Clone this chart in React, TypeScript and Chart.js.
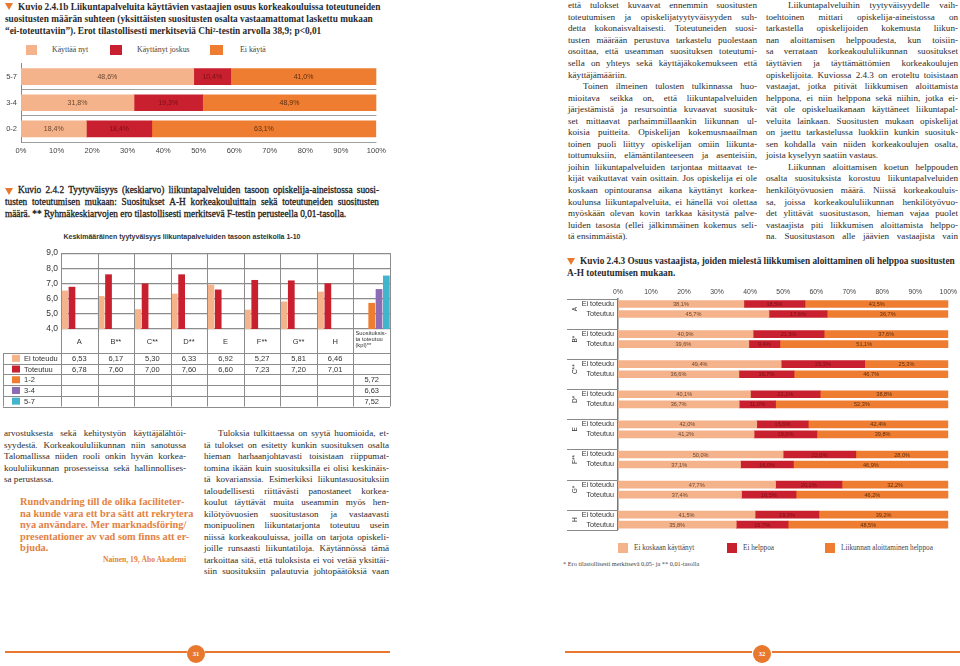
import React, { useEffect, useRef } from "react";
import { Chart, registerables } from "chart.js";

Chart.register(...registerables);

const SERIF = '"Liberation Serif", "Times New Roman", serif';
const SANS = '"Liberation Sans", Arial, sans-serif';

const SALMON = "#F4B38B";
const RED = "#C8202E";
const ORANGE = "#EE7D31";
const PURPLE = "#8C6CB2";
const CYAN = "#42B4CC";
const ACCENT = "#E8782E";
const TEXT = "#2b2b2b";

// ---------- Kuvio 2.4.1b ----------
const fig1Groups = ["5-7", "3-4", "0-2"];
const fig1SeriesNames = ["Käyttää nyt", "Käyttänyt joskus", "Ei käytä"];
const fig1UsesNow = [48.6, 31.8, 18.4];
const fig1UsedSometimes = [10.4, 19.3, 18.4];
const fig1DoesNotUse = [41.0, 48.9, 63.1];

// ---------- Kuvio 2.4.2 ----------
const fig2Categories = ["A", "B**", "C**", "D**", "E", "F**", "G**", "H", "Suosituksista toteutuu (kpl)**"];
const fig2LastCategoryLines = ["Suosituksis-", "ta toteutuu", "(kpl)**"];
const fig2SeriesNames = ["Ei toteudu", "Toteutuu", "1-2", "3-4", "5-7"];
const fig2NotRealised = [6.53, 6.17, 5.3, 6.33, 6.92, 5.27, 5.81, 6.46, null];
const fig2Realised = [6.78, 7.6, 7.0, 7.6, 6.6, 7.23, 7.2, 7.01, null];
const fig2Count12 = [null, null, null, null, null, null, null, null, 5.72];
const fig2Count34 = [null, null, null, null, null, null, null, null, 6.63];
const fig2Count57 = [null, null, null, null, null, null, null, null, 7.52];

// ---------- Kuvio 2.4.3 ----------
const fig3Groups = ["A", "B*", "C**", "D*", "E", "F**", "G*", "H"];
const fig3RowNames = ["Ei toteudu", "Toteutuu"];
const fig3SeriesNames = ["Ei koskaan käyttänyt", "Ei helppoa", "Liikunnan aloittaminen helppoa"];
const fig3NeverNotRealised = [38.1, 40.9, 49.4, 40.1, 42.0, 50.0, 47.7, 41.5];
const fig3HardNotRealised = [18.5, 21.5, 25.3, 21.1, 15.6, 22.0, 20.1, 19.3];
const fig3EasyNotRealised = [43.5, 37.6, 25.3, 38.8, 42.4, 28.0, 32.2, 39.2];
const fig3NeverRealised = [45.7, 39.6, 36.6, 36.7, 41.2, 37.1, 37.4, 35.8];
const fig3HardRealised = [17.6, 9.4, 16.7, 11.0, 19.0, 16.0, 16.5, 15.7];
const fig3EasyRealised = [36.7, 51.1, 46.7, 52.3, 39.8, 46.9, 46.2, 48.5];

// ---------- Text ----------
const title1Lines = [
  ">Kuvio 2.4.1b Liikuntapalveluita käyttävien vastaajien osuus korkeakouluissa toteutuneiden|",
  "suositusten määrän suhteen (yksittäisten suositusten osalta vastaamattomat laskettu mukaan|",
  "“ei-toteuttaviin”). Erot tilastollisesti merkitseviä Chi²-testin arvolla 38,9; p<0,01|",
];
const title2Lines = [
  ">Kuvio 2.4.2 Tyytyväisyys (keskiarvo) liikuntapalveluiden tasoon opiskelija-aineistossa suosi-",
  "tusten toteutumisen mukaan: Suositukset A-H korkeakouluittain sekä toteutuneiden suositusten",
  "määrä. ** Ryhmäkeskiarvojen ero tilastollisesti merkitsevä F-testin perusteella 0,01-tasolla.|",
];
const fig2Subtitle = "Keskimääräinen tyytyväisyys liikuntapalveluiden tasoon asteikolla 1-10";
const title3Lines = [
  ">Kuvio 2.4.3 Osuus vastaajista, joiden mielestä liikkumisen aloittaminen oli helppoa suositusten|",
  "A-H toteutumisen mukaan.|",
];
const leftCol1 = [
  "arvostuksesta sekä kehitystyön käyttäjälähtöi-",
  "syydestä. Korkeakoululiikunnan niin sanotussa",
  "Talomallissa niiden rooli onkin hyvän korkea-",
  "koululiikunnan prosesseissa sekä hallinnollises-",
  "sa perustassa.|",
];
const quoteLines = [
  "Rundvandring till de olika faciliteter-|",
  "na kunde vara ett bra sätt att rekrytera|",
  "nya användare. Mer marknadsföring/|",
  "presentationer av vad som finns att er-|",
  "bjuda.|",
];
const quoteAuthor = "Nainen, 19, Åbo Akademi";
const leftCol2 = [
  ">Tuloksia tulkittaessa on syytä huomioida, et-",
  "tä tulokset on esitetty kunkin suosituksen osalta",
  "hieman harhaanjohtavasti toisistaan riippumat-",
  "tomina ikään kuin suosituksilla ei olisi keskinäis-",
  "tä kovarianssia. Esimerkiksi liikuntasuosituksiin",
  "taloudellisesti riittävästi panostaneet korkea-",
  "koulut täyttävät muita useammin myös hen-",
  "kilötyövuosien suositustason ja vastaavasti",
  "monipuolinen liikuntatarjonta toteutuu usein",
  "niissä korkeakouluissa, joilla on tarjota opiskeli-",
  "joille runsaasti liikuntatiloja. Käytännössä tämä",
  "tarkoittaa sitä, että tuloksista ei voi vetää yksittäi-",
  "siin suosituksiin palautuvia johtopäätöksiä vaan",
];
const rightCol1 = [
  "että tulokset kuvaavat ennemmin suositusten",
  "toteutumisen ja opiskelijatyytyväisyyden suh-",
  "detta kokonaisvaltaisesti. Toteutuneiden suosi-",
  "tusten määrään perustuva tarkastelu puolestaan",
  "osoittaa, että useamman suosituksen toteutumi-",
  "sella on yhteys sekä käyttäjäkokemukseen että",
  "käyttäjämääriin.|",
  ">Toinen ilmeinen tulosten tulkinnassa huo-",
  "mioitava seikka on, että liikuntapalveluiden",
  "järjestämistä ja resursointia kuvaavat suosituk-",
  "set mittaavat parhaimmillaankin liikunnan ul-",
  "koisia puitteita. Opiskelijan kokemusmaailman",
  "toinen puoli liittyy opiskelijan omiin liikunta-",
  "tottumuksiin, elämäntilanteeseen ja asenteisiin,",
  "joihin liikuntapalveluiden tarjontaa mittaavat te-",
  "kijät vaikuttavat vain osittain. Jos opiskelija ei ole",
  "koskaan opintouransa aikana käyttänyt korkea-",
  "koulunsa liikuntapalveluita, ei hänellä voi olettaa",
  "myöskään olevan kovin tarkkaa käsitystä palve-",
  "luiden tasosta (ellei jälkimmäinen kokemus seli-",
  "tä ensimmäistä).|",
];
const rightCol2 = [
  ">Liikuntapalveluihin tyytyväisyydelle vaih-",
  "toehtoinen mittari opiskelija-aineistossa on",
  "tarkastella opiskelijoiden kokemusta liikun-",
  "nan aloittamisen helppoudesta, kun toisiin-",
  "sa verrataan korkeakoululiikunnan suositukset",
  "täyttävien ja täyttämättömien korkeakoulujen",
  "opiskelijoita. Kuviossa 2.4.3 on eroteltu toisistaan",
  "vastaajat, jotka pitivät liikkumisen aloittamista",
  "helppona, ei niin helppona sekä niihin, jotka ei-",
  "vät ole opiskeluaikanaan käyttäneet liikuntapal-",
  "veluita lainkaan. Suositusten mukaan opiskelijat",
  "on jaettu tarkastelussa luokkiin kunkin suosituk-",
  "sen kohdalla vain niiden korkeakoulujen osalta,",
  "joista kyselyyn saatiin vastaus.|",
  ">Liikunnan aloittamisen koetun helppouden",
  "osalta suosituksista korostuu liikuntapalveluiden",
  "henkilötyövuosien määrä. Niissä korkeakouluis-",
  "sa, joissa korkeakoululiikunnan henkilötyövuo-",
  "det ylittävät suositustason, hieman vajaa puolet",
  "vastaajista piti liikkumisen aloittamista helppo-",
  "na. Suositustason alle jäävien vastaajista vain",
];
const footnote3 = "* Ero tilastollisesti merkitsevä 0,05- ja ** 0,01-tasolla";
const pageNumbers = ["31", "32"];

// ---------- helpers ----------
const pct = (v: number) => v.toFixed(1).replace(".", ",") + "%";
const dec2 = (v: number) => v.toFixed(2).replace(".", ",");

function segmentLabels(font: string, colors: string[]) {
  return {
    id: "segmentLabels",
    afterDatasetsDraw(chart: any) {
      const ctx = chart.ctx;
      ctx.save();
      ctx.font = font;
      ctx.textAlign = "center";
      ctx.textBaseline = "middle";
      chart.data.datasets.forEach((ds: any, di: number) => {
        const meta = chart.getDatasetMeta(di);
        meta.data.forEach((el: any, i: number) => {
          const v = ds.data[i];
          if (v == null) return;
          const p = el.getProps(["x", "y", "base"], true);
          ctx.fillStyle = colors[di];
          ctx.fillText(pct(v), (p.x + p.base) / 2, p.y + 0.5);
        });
      });
      ctx.restore();
    },
  };
}

function ChartBox(props: { left: number; top: number; width: number; height: number; make: () => any }) {
  const ref = useRef<HTMLCanvasElement>(null);
  useEffect(() => {
    const c = new Chart(ref.current as HTMLCanvasElement, props.make());
    return () => c.destroy();
  }, []);
  return (
    <canvas
      ref={ref}
      width={props.width}
      height={props.height}
      style={{ position: "absolute", left: props.left, top: props.top, width: props.width, height: props.height }}
    />
  );
}

function TextCol(props: {
  x: number; y: number; w: number; lines: string[]; size: number; lh: number;
  indent?: number; weight?: any; color?: string; family?: string; stroke?: string;
}) {
  const { x, y, w, lines, size, lh } = props;
  return (
    <div
      style={{
        position: "absolute", left: x, top: y - lh / 2, width: w,
        fontFamily: props.family || SERIF, fontSize: size, lineHeight: lh + "px",
        fontWeight: props.weight || "normal", color: props.color || TEXT,
        WebkitTextStroke: props.stroke || undefined,
      } as any}
    >
      {lines.map((raw, i) => {
        let s = raw;
        let ind = 0;
        let just = true;
        if (s.startsWith(">")) { ind = props.indent || 0; s = s.slice(1); }
        if (s.endsWith("|")) { just = false; s = s.slice(0, -1); }
        const words = s.split(" ");
        return (
          <div
            key={i}
            style={{
              display: "flex", justifyContent: just ? "space-between" : "flex-start",
              columnGap: just ? "0.1em" : "0.25em", paddingLeft: ind, height: lh, whiteSpace: "nowrap",
            }}
          >
            {words.map((wd, k) => <span key={k}>{wd}</span>)}
          </div>
        );
      })}
    </div>
  );
}

function Tri(props: { x: number; y: number }) {
  return (
    <div style={{
      position: "absolute", left: props.x, top: props.y, width: 0, height: 0,
      borderLeft: "4px solid transparent", borderRight: "4px solid transparent", borderTop: "7px solid " + ACCENT,
    }} />
  );
}

function LegendItem(props: { sx: number; sw: number; y: number; color: string; tx: number; label: string; size: number }) {
  return (
    <>
      <div style={{ position: "absolute", left: props.sx, top: props.y - 5, width: props.sw, height: 10, background: props.color }} />
      <div style={{
        position: "absolute", left: props.tx, top: props.y - 6, height: 12, lineHeight: "12px",
        fontFamily: SERIF, fontSize: props.size, color: "#444", whiteSpace: "nowrap",
      }}>{props.label}</div>
    </>
  );
}

// ---------- chart configs ----------
function makeFig1() {
  return {
    type: "bar",
    data: {
      labels: fig1Groups,
      datasets: [
        { label: fig1SeriesNames[0], data: fig1UsesNow, backgroundColor: SALMON, barThickness: 16 },
        { label: fig1SeriesNames[1], data: fig1UsedSometimes, backgroundColor: RED, barThickness: 16 },
        { label: fig1SeriesNames[2], data: fig1DoesNotUse, backgroundColor: ORANGE, barThickness: 16 },
      ],
    },
    options: {
      indexAxis: "y",
      responsive: false,
      animation: false,
      layout: { padding: { top: 7, right: 6, left: 0, bottom: 0 } },
      plugins: { legend: { display: false }, tooltip: { enabled: false } },
      scales: {
        x: {
          stacked: true, min: 0, max: 100,
          ticks: { stepSize: 10, callback: (v: any) => v + "%", font: { size: 7.5, family: SANS }, color: "#444", padding: 4 },
          grid: { display: false, drawTicks: false },
          border: { display: false },
          afterFit: (s: any) => { s.height = 18; },
        },
        y: {
          stacked: true,
          ticks: { font: { size: 7.5, family: SANS }, color: "#444", padding: 4 },
          grid: { offset: true, drawTicks: false, color: (c: any) => (c.index === 0 ? "rgba(0,0,0,0)" : "#a0a0a0") },
          border: { display: true, color: "#888" },
          afterFit: (s: any) => { s.width = 21; },
        },
      },
    },
    plugins: [segmentLabels("7px " + SANS, ["#6b4632", "#7a0f18", "#5e2e10"])],
  };
}

function makeFig2() {
  const colors = [SALMON, RED, ORANGE, PURPLE, CYAN];
  const series = [fig2NotRealised, fig2Realised, fig2Count12, fig2Count34, fig2Count57];
  const tablePlugin = {
    id: "fig2Table",
    afterDraw(chart: any) {
      const ctx = chart.ctx;
      const { left, right, top } = chart.chartArea;
      const n = fig2Categories.length;
      const cw = (right - left) / n;
      const rowTop = 108;
      const rowH = 10.7;
      const tableBottom = rowTop + series.length * rowH;
      ctx.save();
      ctx.strokeStyle = "#8c8c8c";
      ctx.lineWidth = 1;
      ctx.beginPath();
      for (let i = 0; i <= n; i++) {
        const x = Math.round(left + i * cw) + 0.5;
        ctx.moveTo(x, top);
        ctx.lineTo(x, tableBottom);
      }
      for (let r = 0; r <= series.length; r++) {
        const y = Math.round(rowTop + r * rowH) + 0.5;
        ctx.moveTo(3, y);
        ctx.lineTo(right, y);
      }
      ctx.moveTo(3.5, rowTop);
      ctx.lineTo(3.5, tableBottom);
      ctx.stroke();

      ctx.fillStyle = "#333";
      ctx.textBaseline = "middle";
      ctx.textAlign = "center";
      ctx.font = "7.5px " + SANS;
      for (let i = 0; i < n - 1; i++) {
        ctx.fillText(fig2Categories[i], left + (i + 0.5) * cw, 97);
      }
      ctx.textAlign = "left";
      ctx.font = "5.8px " + SANS;
      fig2LastCategoryLines.forEach((t, k) => ctx.fillText(t, left + (n - 1) * cw + 2, 88 + k * 6.3));

      ctx.font = "7.5px " + SANS;
      series.forEach((arr, d) => {
        const y = rowTop + (d + 0.5) * rowH;
        ctx.fillStyle = colors[d];
        ctx.fillRect(12, y - 3.5, 8, 7);
        ctx.fillStyle = "#333";
        ctx.textAlign = "left";
        ctx.fillText(fig2SeriesNames[d], 24, y + 0.5);
        ctx.textAlign = "center";
        arr.forEach((v, i) => {
          if (v == null) return;
          ctx.fillText(dec2(v), left + (i + 0.5) * cw, y + 0.5);
        });
      });
      ctx.restore();
    },
  };
  return {
    type: "bar",
    data: {
      labels: fig2Categories,
      datasets: series.map((arr, d) => ({ label: fig2SeriesNames[d], data: arr, backgroundColor: colors[d] })),
    },
    options: {
      responsive: false,
      animation: false,
      datasets: { bar: { categoryPercentage: 1, barPercentage: 0.92 } },
      layout: { padding: { top: 8, right: 2, left: 0, bottom: 0 } },
      plugins: { legend: { display: false }, tooltip: { enabled: false } },
      scales: {
        x: {
          ticks: { display: false },
          grid: { display: false, drawTicks: false },
          border: { display: false },
          afterFit: (s: any) => { s.height = 82; },
        },
        y: {
          min: 4, max: 9,
          ticks: {
            stepSize: 0.5,
            callback: (v: any) => Number(v).toFixed(1).replace(".", ","),
            font: { size: 8.5, family: SANS }, color: "#333", padding: 3,
          },
          grid: { color: "#8c8c8c", lineWidth: 1.2, drawTicks: false },
          border: { display: true, color: "#8c8c8c" },
          afterFit: (s: any) => { s.width = 61; },
        },
      },
    },
    plugins: [tablePlugin],
  };
}

function makeFig3() {
  const labels: string[] = [];
  const never: (number | null)[] = [];
  const hard: (number | null)[] = [];
  const easy: (number | null)[] = [];
  fig3Groups.forEach((_g, i) => {
    labels.push(fig3RowNames[0]);
    never.push(fig3NeverNotRealised[i]); hard.push(fig3HardNotRealised[i]); easy.push(fig3EasyNotRealised[i]);
    labels.push(fig3RowNames[1]);
    never.push(fig3NeverRealised[i]); hard.push(fig3HardRealised[i]); easy.push(fig3EasyRealised[i]);
    if (i < fig3Groups.length - 1) {
      labels.push("");
      never.push(null); hard.push(null); easy.push(null);
    }
  });
  const slots = labels.length;
  const groupPlugin = {
    id: "fig3Groups",
    afterDraw(chart: any) {
      const ctx = chart.ctx;
      const { left, top, bottom } = chart.chartArea;
      const slot = (bottom - top) / slots;
      ctx.save();
      ctx.strokeStyle = "#8a8a8a";
      ctx.lineWidth = 1;
      ctx.beginPath();
      for (let g = 0; g < fig3Groups.length; g++) {
        const y = Math.round(top + g * 3 * slot) + 0.5;
        ctx.moveTo(7, y);
        ctx.lineTo(left, y);
      }
      ctx.moveTo(7, Math.round(bottom) + 0.5);
      ctx.lineTo(left, Math.round(bottom) + 0.5);
      ctx.stroke();
      ctx.fillStyle = "#333";
      ctx.font = "6.5px " + SANS;
      ctx.textAlign = "center";
      ctx.textBaseline = "middle";
      fig3Groups.forEach((g, i) => {
        ctx.save();
        ctx.translate(15, top + (i * 3 + 1) * slot);
        ctx.rotate(-Math.PI / 2);
        ctx.fillText(g, 0, 0);
        ctx.restore();
      });
      ctx.restore();
    },
  };
  return {
    type: "bar",
    data: {
      labels,
      datasets: [
        { label: fig3SeriesNames[0], data: never, backgroundColor: SALMON, barThickness: 7 },
        { label: fig3SeriesNames[1], data: hard, backgroundColor: RED, barThickness: 7 },
        { label: fig3SeriesNames[2], data: easy, backgroundColor: ORANGE, barThickness: 7 },
      ],
    },
    options: {
      indexAxis: "y",
      responsive: false,
      animation: false,
      layout: { padding: { top: 0, right: 6, left: 0, bottom: 4 } },
      plugins: { legend: { display: false }, tooltip: { enabled: false } },
      scales: {
        x: {
          position: "top", stacked: true, min: 0, max: 100,
          ticks: { stepSize: 10, callback: (v: any) => v + "%", font: { size: 6.8, family: SANS }, color: "#444", padding: 3 },
          grid: { display: false, drawTicks: false },
          border: { display: false },
          afterFit: (s: any) => { s.height = 19; },
        },
        y: {
          stacked: true,
          ticks: { autoSkip: false, font: { size: 7.2, family: SANS }, color: "#333", padding: 4 },
          grid: { display: false, drawTicks: false },
          border: { display: true, color: "#777", width: 1.5 },
          afterFit: (s: any) => { s.width = 58; },
        },
      },
    },
    plugins: [segmentLabels("5.6px " + SANS, ["#6b4632", "#7a0f18", "#5e2e10"]), groupPlugin],
  };
}

function PageNum(props: { cx: number; label: string }) {
  return (
    <div style={{
      position: "absolute", left: props.cx - 9, top: 645, width: 18, height: 18, borderRadius: 9,
      background: ACCENT, color: "#fff", fontFamily: SERIF, fontWeight: "bold", fontSize: 6.5,
      lineHeight: "18px", textAlign: "center",
    }}>{props.label}</div>
  );
}

function Rule(props: { x1: number; x2: number }) {
  return <div style={{ position: "absolute", left: props.x1, top: 651, width: props.x2 - props.x1, height: 2, background: ACCENT }} />;
}

export default function App() {
  return (
    <div style={{ position: "fixed", left: 0, top: 0, width: 960, height: 666, background: "#fff", overflow: "hidden" }}>
      {/* Kuvio 2.4.1b */}
      <Tri x={5} y={3} />
      <TextCol x={5} y={6.5} w={385} lines={title1Lines} size={9.3} lh={12} indent={13} weight="bold" />
      <LegendItem sx={26} sw={11} y={50} color={SALMON} tx={52} label={fig1SeriesNames[0]} size={7.8} />
      <LegendItem sx={110} sw={12} y={50} color={RED} tx={137} label={fig1SeriesNames[1]} size={7.8} />
      <LegendItem sx={210} sw={13} y={50} color={ORANGE} tx={240} label={fig1SeriesNames[2]} size={7.8} />
      <ChartBox left={0} top={55} width={390} height={105} make={makeFig1} />

      {/* Kuvio 2.4.2 */}
      <Tri x={5} y={188} />
      <TextCol x={5} y={191} w={374} lines={title2Lines} size={9.3} lh={11.75} indent={13} color="#1f1f1f" stroke="0.3px #1f1f1f" />
      <div style={{
        position: "absolute", left: 0, width: 364, top: 231, height: 12, lineHeight: "12px", textAlign: "center",
        fontFamily: SANS, fontWeight: "bold", fontSize: 7, color: "#333", whiteSpace: "nowrap",
      }}>{fig2Subtitle}</div>
      <ChartBox left={0} top={245} width={392} height={166} make={makeFig2} />

      {/* Left page body */}
      <TextCol x={4} y={434} w={182} lines={leftCol1} size={9.1} lh={11.5} />
      <TextCol x={20} y={502} w={170} lines={quoteLines} size={10.3} lh={11.5} weight="bold" color="#E3813F" />
      <div style={{
        position: "absolute", left: 0, width: 186, top: 554, height: 12, lineHeight: "12px", textAlign: "right",
        fontFamily: SERIF, fontWeight: "bold", fontSize: 7.6, color: "#E3813F", whiteSpace: "nowrap",
      }}>{quoteAuthor}</div>
      <TextCol x={204} y={434} w={185} lines={leftCol2} size={9.1} lh={11.5} indent={14} />

      {/* Right page body */}
      <TextCol x={568} y={6} w={189} lines={rightCol1} size={9.1} lh={11.55} indent={15} />
      <TextCol x={766} y={6} w={192} lines={rightCol2} size={9.1} lh={11.55} indent={22} />

      {/* Kuvio 2.4.3 */}
      <Tri x={567} y={258} />
      <TextCol x={567} y={261} w={392} lines={title3Lines} size={9.3} lh={12.5} indent={13} weight="bold" />
      <ChartBox left={560} top={280} width={400} height={258} make={makeFig3} />
      <LegendItem sx={618} sw={10} y={548} color={SALMON} tx={634} label={fig3SeriesNames[0]} size={7.2} />
      <LegendItem sx={727} sw={10} y={548} color={RED} tx={743} label={fig3SeriesNames[1]} size={7.2} />
      <LegendItem sx={825} sw={10} y={548} color={ORANGE} tx={841} label={fig3SeriesNames[2]} size={7.2} />
      <div style={{
        position: "absolute", left: 563, top: 558, height: 12, lineHeight: "12px",
        fontFamily: SERIF, fontSize: 6.3, color: "#444", whiteSpace: "nowrap",
      }}>{footnote3}</div>

      {/* Footer */}
      <Rule x1={5} x2={187} />
      <PageNum cx={196} label={pageNumbers[0]} />
      <Rule x1={205} x2={390} />
      <Rule x1={565} x2={752} />
      <PageNum cx={762} label={pageNumbers[1]} />
      <Rule x1={772} x2={960} />
    </div>
  );
}
